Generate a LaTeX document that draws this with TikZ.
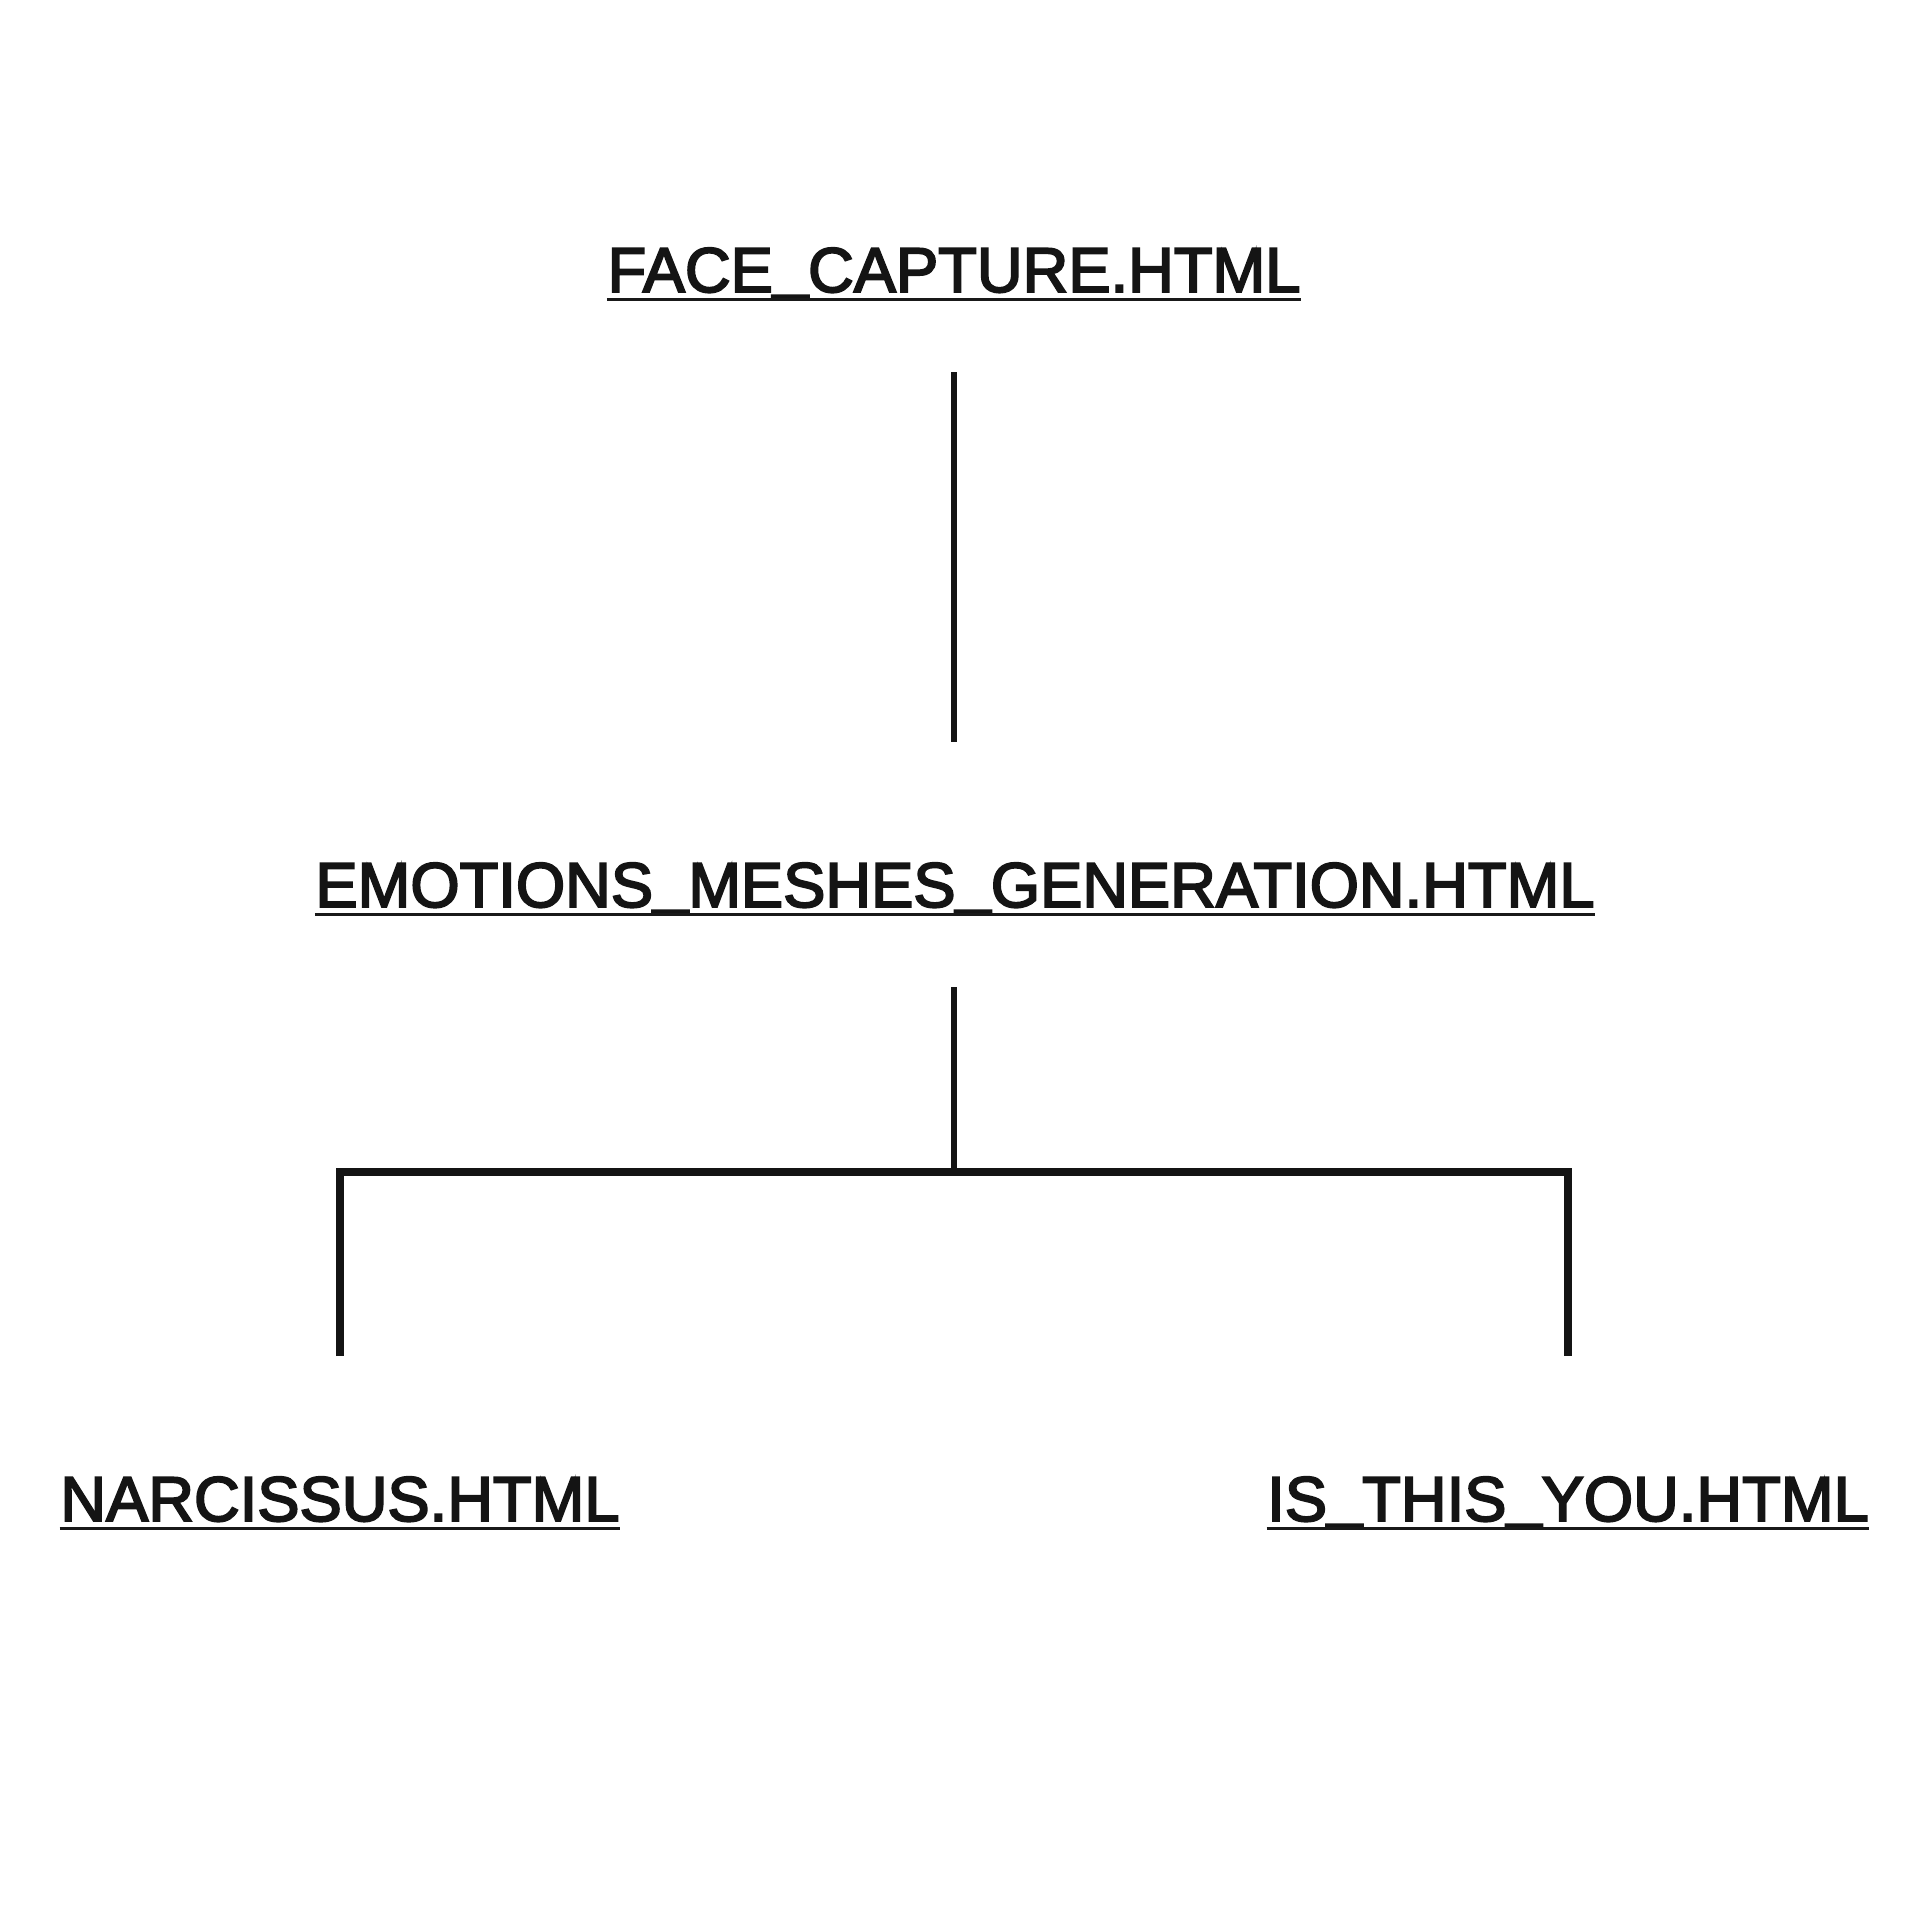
\documentclass[tikz,border=0pt]{standalone}
\usepackage{fontspec}
\setmainfont{Liberation Sans}
\newfontfamily\filefont{Liberation Sans}
\newcommand{\heavytext}[1]{\special{pdf:literal direct 2 Tr 0.55 w}#1\special{pdf:literal direct 0 Tr}}
\newcommand{\us}{\raisebox{1.5pt}{\_}}
\begin{document}
\begin{tikzpicture}[x=0.01cm,y=-0.01cm,
  fname/.style={inner sep=0pt,anchor=base,font=\filefont\fontsize{18}{20}\selectfont,text=black!92},
  uline/.style={line width=1pt,black!90},
  trunk/.style={line width=1.6pt,black!92},
  bracket/.style={line width=2.1pt,black!92}]
\useasboundingbox[fill=white] (0,0) rectangle (1920,1920);
\node[fname] (face) at (954,292) {\heavytext{FACE\us CAPTURE.HTML}};
\node[fname] (emo) at (955,907) {\heavytext{EMOTIONS\us MESHES\us GENERATION.HTML}};
\node[fname] (nar) at (340,1521) {\heavytext{NARCISSUS.HTML}};
\node[fname] (you) at (1568,1521) {\heavytext{IS\us THIS\us YOU.HTML}};
\foreach \n in {face,emo,nar,you}{
  \draw[uline] ([yshift=-0.075cm]\n.base west) -- ([yshift=-0.075cm]\n.base east);
}
\coordinate (t1) at (954,372);
\coordinate (b1) at (954,742);
\coordinate (t2) at (954,987);
\coordinate (j) at (954,1172);
\coordinate (jl) at (340,1172);
\coordinate (jr) at (1568,1172);
\coordinate (el) at (340,1356);
\coordinate (er) at (1568,1356);
\draw[trunk] (t1) -- (b1);
\draw[trunk] (t2) -- (j);
\draw[bracket] (el) -- (jl) -- (jr) -- (er);
\end{tikzpicture}
\end{document}
